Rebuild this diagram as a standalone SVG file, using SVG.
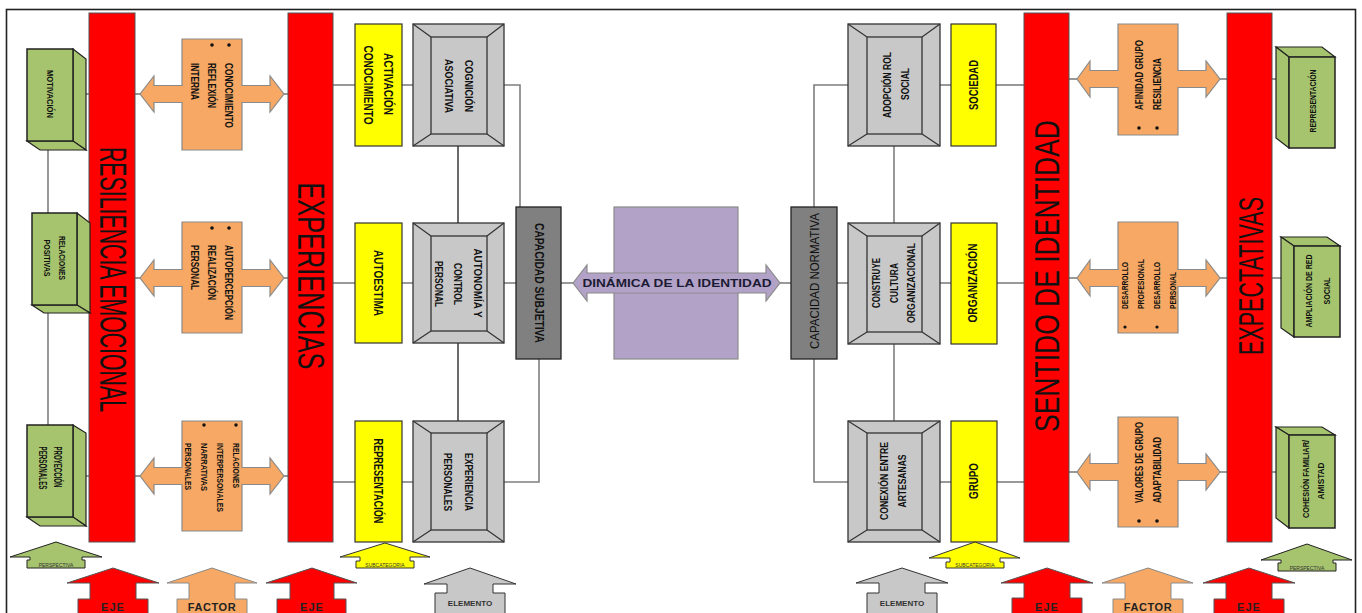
<svg xmlns="http://www.w3.org/2000/svg" width="1362" height="613" viewBox="0 0 1362 613">
<style>
.t{font-family:"Liberation Sans",Arial,sans-serif;fill:#111}
.b{font-weight:bold}
.red{fill:#FF0000;stroke:#555;stroke-width:1}
.org{fill:#F6A864;stroke:#8a8a8a;stroke-width:1.2}
.yel{fill:#FFFF00;stroke:#333;stroke-width:1.2}
.gry{fill:#C8C8C8;stroke:#333;stroke-width:1.3}
.grn{fill:#A6C46E;stroke:#222;stroke-width:1.5}
.grn2{fill:#A6C46E;stroke:#222;stroke-width:1.2}
.pur{fill:#B3A2C7;stroke:#8a8a8a;stroke-width:1.2}
.dk{fill:#808080;stroke:#222;stroke-width:1.3}
.ln{stroke:#7f7f7f;stroke-width:1.6;fill:none}
.bv{stroke:#333;stroke-width:1.2}
.lg{stroke-width:1}
</style>
<rect x="6.5" y="9.5" width="1349" height="620" fill="#fff" stroke="#222" stroke-width="1.6"/>

<g id="connectors">
<line class="ln" x1="48" y1="150" x2="48" y2="213"/>
<line class="ln" x1="48" y1="313" x2="48" y2="425"/>
<line class="ln" x1="86" y1="94" x2="89" y2="94"/>
<line class="ln" x1="135" y1="94" x2="140" y2="94"/>
<line class="ln" x1="284" y1="94" x2="288" y2="94"/>
<line class="ln" x1="135" y1="278" x2="140" y2="278"/>
<line class="ln" x1="284" y1="278" x2="288" y2="278"/>
<line class="ln" x1="86" y1="476" x2="89" y2="476"/>
<line class="ln" x1="135" y1="476" x2="140" y2="476"/>
<line class="ln" x1="284" y1="476" x2="288" y2="476"/>
<line class="ln" x1="333" y1="85" x2="355" y2="85"/>
<line class="ln" x1="402" y1="85" x2="413" y2="85"/>
<line class="ln" x1="333" y1="283" x2="355" y2="283"/>
<line class="ln" x1="402" y1="283" x2="413" y2="283"/>
<line class="ln" x1="333" y1="482" x2="355" y2="482"/>
<line class="ln" x1="402" y1="482" x2="413" y2="482"/>
<line class="ln" x1="458" y1="146" x2="458" y2="223" style="stroke:#444"/>
<line class="ln" x1="458" y1="343" x2="458" y2="421" style="stroke:#444"/>
<polyline class="ln" points="504,85 520,85 520,207"/>
<line class="ln" x1="504" y1="283" x2="516" y2="283"/>
<polyline class="ln" points="539,359 539,482 504,482"/>
<line class="ln" x1="561" y1="283" x2="573" y2="283"/>
<line class="ln" x1="780" y1="283" x2="791" y2="283"/>
<polyline class="ln" points="848,85 814,85 814,207"/>
<line class="ln" x1="837" y1="283" x2="848" y2="283"/>
<polyline class="ln" points="814,359 814,482 848,482"/>
<line class="ln" x1="894" y1="146" x2="894" y2="223"/>
<line class="ln" x1="894" y1="344" x2="894" y2="421"/>
<line class="ln" x1="940" y1="85" x2="951" y2="85"/>
<line class="ln" x1="996" y1="85" x2="1024" y2="85"/>
<line class="ln" x1="940" y1="283" x2="951" y2="283"/>
<line class="ln" x1="997" y1="283" x2="1024" y2="283"/>
<line class="ln" x1="940" y1="482" x2="951" y2="482"/>
<line class="ln" x1="997" y1="482" x2="1024" y2="482"/>
<line class="ln" x1="1069" y1="79" x2="1077" y2="79"/>
<line class="ln" x1="1220" y1="79" x2="1227" y2="79"/>
<line class="ln" x1="1272" y1="79" x2="1276" y2="79"/>
<line class="ln" x1="1069" y1="278" x2="1077" y2="278"/>
<line class="ln" x1="1220" y1="278" x2="1227" y2="278"/>
<line class="ln" x1="1272" y1="278" x2="1281" y2="278"/>
<line class="ln" x1="1069" y1="472" x2="1077" y2="472"/>
<line class="ln" x1="1220" y1="472" x2="1227" y2="472"/>
<line class="ln" x1="1272" y1="472" x2="1276" y2="472"/>
</g>

<!-- Red axes -->
<g id="eje-resiliencia">
<rect class="red" x="89" y="13" width="46" height="529"/>
<text class="t" font-size="36" transform="translate(113,279.5) rotate(90)" y="12.9" text-anchor="middle" textLength="265" lengthAdjust="spacingAndGlyphs">RESILIENCIA EMOCIONAL</text>
</g>
<g id="eje-experiencias">
<rect class="red" x="288" y="13" width="45" height="529"/>
<text class="t" font-size="37" transform="translate(311,276) rotate(90)" y="13.3" text-anchor="middle" textLength="187" lengthAdjust="spacingAndGlyphs">EXPERIENCIAS</text>
</g>
<g id="eje-sentido">
<rect class="red" x="1024" y="13" width="45" height="529"/>
<text class="t" font-size="35" transform="translate(1046.5,276) rotate(-90)" y="12.6" text-anchor="middle" textLength="312" lengthAdjust="spacingAndGlyphs">SENTIDO DE IDENTIDAD</text>
</g>
<g id="eje-expectativas">
<rect class="red" x="1227" y="13" width="45" height="529"/>
<text class="t" font-size="35" transform="translate(1250,276) rotate(-90)" y="12.6" text-anchor="middle" textLength="158" lengthAdjust="spacingAndGlyphs">EXPECTATIVAS</text>
</g>

<!-- Left green perspectives -->
<g id="persp-motivacion">
<polygon class="grn2" points="73,49 86,59 86,150 73,141"/>
<polygon class="grn2" points="27,141 73,141 86,150 40,150"/>
<rect class="grn" x="27" y="49" width="46" height="92"/>
<text class="t b" font-size="9" transform="translate(50,94) rotate(90)" y="3.2" text-anchor="middle" textLength="48" lengthAdjust="spacingAndGlyphs">MOTIVACIÓN</text>
</g>
<g id="persp-relaciones">
<polygon class="grn2" points="77,213 90,223 90,313 77,305"/>
<polygon class="grn2" points="32,305 77,305 90,313 44,313"/>
<rect class="grn" x="32" y="213" width="45" height="92"/>
<text class="t b" font-size="9" transform="translate(62,258) rotate(90)" y="3.2" text-anchor="middle" textLength="44" lengthAdjust="spacingAndGlyphs">RELACIONES</text>
<text class="t b" font-size="9" transform="translate(47,258) rotate(90)" y="3.2" text-anchor="middle" textLength="37" lengthAdjust="spacingAndGlyphs">POSITIVAS</text>
</g>
<g id="persp-proyeccion">
<polygon class="grn2" points="73,425 86,433 86,526 73,517"/>
<polygon class="grn2" points="27,517 73,517 86,526 40,526"/>
<rect class="grn" x="27" y="425" width="46" height="92"/>
<text class="t b" font-size="10" transform="translate(58,467) rotate(90)" y="3.6" text-anchor="middle" textLength="41" lengthAdjust="spacingAndGlyphs">PROYECCIÓN</text>
<text class="t b" font-size="10" transform="translate(43,468) rotate(90)" y="3.6" text-anchor="middle" textLength="43" lengthAdjust="spacingAndGlyphs">PERSONALES</text>
</g>

<!-- Left orange factors -->
<g id="factor-l1">
<polygon class="org" points="140,94 154,76 154,85.5 182,85.5 182,39 242,39 242,85.5 270,85.5 270,76 284,94 270,112 270,102.5 242,102.5 242,150 182,150 182,102.5 154,102.5 154,112"/>
<circle cx="229" cy="45" r="1.8" fill="#111"/><circle cx="212" cy="45" r="1.8" fill="#111"/>
<text class="t b" font-size="10" transform="translate(229,63) rotate(90)" y="3.6" textLength="65" lengthAdjust="spacingAndGlyphs">CONOCIMIENTO</text>
<text class="t b" font-size="10" transform="translate(212,63) rotate(90)" y="3.6" textLength="45" lengthAdjust="spacingAndGlyphs">REFLEXIÓN</text>
<text class="t b" font-size="10" transform="translate(195,63) rotate(90)" y="3.6" textLength="37" lengthAdjust="spacingAndGlyphs">INTERNA</text>
</g>
<g id="factor-l2">
<polygon class="org" points="140,278 154,260 154,269.5 182,269.5 182,222 242,222 242,269.5 270,269.5 270,260 284,278 270,296 270,286.5 242,286.5 242,333 182,333 182,286.5 154,286.5 154,296"/>
<circle cx="229" cy="228" r="1.8" fill="#111"/><circle cx="212" cy="228" r="1.8" fill="#111"/>
<text class="t b" font-size="10" transform="translate(229,245) rotate(90)" y="3.6" textLength="75" lengthAdjust="spacingAndGlyphs">AUTOPERCEPCIÓN</text>
<text class="t b" font-size="10" transform="translate(212,245) rotate(90)" y="3.6" textLength="55" lengthAdjust="spacingAndGlyphs">REALIZACIÓN</text>
<text class="t b" font-size="10" transform="translate(195,245) rotate(90)" y="3.6" textLength="45" lengthAdjust="spacingAndGlyphs">PERSONAL</text>
</g>
<g id="factor-l3">
<polygon class="org" points="140,476 154,458 154,467.5 182,467.5 182,421 242,421 242,467.5 270,467.5 270,458 284,476 270,494 270,484.5 242,484.5 242,531 182,531 182,484.5 154,484.5 154,494"/>
<circle cx="236" cy="425" r="1.7" fill="#111"/><circle cx="204" cy="425" r="1.7" fill="#111"/>
<text class="t b" font-size="9.5" transform="translate(236,443) rotate(90)" y="3.4" textLength="45" lengthAdjust="spacingAndGlyphs">RELACIONES</text>
<text class="t b" font-size="9.5" transform="translate(220,443) rotate(90)" y="3.4" textLength="69" lengthAdjust="spacingAndGlyphs">INTERPERSONALES</text>
<text class="t b" font-size="9.5" transform="translate(204,443) rotate(90)" y="3.4" textLength="48" lengthAdjust="spacingAndGlyphs">NARRATIVAS</text>
<text class="t b" font-size="9.5" transform="translate(188,443) rotate(90)" y="3.4" textLength="47" lengthAdjust="spacingAndGlyphs">PERSONALES</text>
</g>

<!-- Left yellow subcategories -->
<g id="sub-activacion">
<rect class="yel" x="355" y="24" width="47" height="122"/>
<text class="t b" font-size="12" transform="translate(388,84) rotate(90)" y="4.3" text-anchor="middle" textLength="62" lengthAdjust="spacingAndGlyphs">ACTIVACIÓN</text>
<text class="t b" font-size="12" transform="translate(368,85) rotate(90)" y="4.3" text-anchor="middle" textLength="79" lengthAdjust="spacingAndGlyphs">CONOCIMIENTO</text>
</g>
<g id="sub-autoestima">
<rect class="yel" x="355" y="223" width="47" height="120"/>
<text class="t b" font-size="12" transform="translate(378,283) rotate(90)" y="4.3" text-anchor="middle" textLength="66" lengthAdjust="spacingAndGlyphs">AUTOESTIMA</text>
</g>
<g id="sub-representacion">
<rect class="yel" x="355" y="421" width="47" height="121"/>
<text class="t b" font-size="12" transform="translate(378,481) rotate(90)" y="4.3" text-anchor="middle" textLength="85" lengthAdjust="spacingAndGlyphs">REPRESENTACIÓN</text>
</g>

<!-- Left gray elements -->
<g id="elem-cognicion">
<rect class="gry" x="413" y="24" width="91" height="122"/>
<rect class="gry" x="431" y="37" width="56" height="97"/>
<path class="bv" d="M413,24L431,37M504,24L487,37M413,146L431,134M504,146L487,134"/>
<text class="t b" font-size="11" transform="translate(469,86) rotate(90)" y="4" text-anchor="middle" textLength="52" lengthAdjust="spacingAndGlyphs">COGNICIÓN</text>
<text class="t b" font-size="11" transform="translate(449,86) rotate(90)" y="4" text-anchor="middle" textLength="54" lengthAdjust="spacingAndGlyphs">ASOCIATIVA</text>
</g>
<g id="elem-autonomia">
<rect class="gry" x="413" y="223" width="91" height="120"/>
<rect class="gry" x="431" y="236" width="56" height="95"/>
<path class="bv" d="M413,223L431,236M504,223L487,236M413,343L431,331M504,343L487,331"/>
<text class="t b" font-size="11" transform="translate(478,283) rotate(90)" y="4" text-anchor="middle" textLength="69" lengthAdjust="spacingAndGlyphs">AUTONOMÍA Y</text>
<text class="t b" font-size="11" transform="translate(458,284) rotate(90)" y="4" text-anchor="middle" textLength="42" lengthAdjust="spacingAndGlyphs">CONTROL</text>
<text class="t b" font-size="11" transform="translate(439,284) rotate(90)" y="4" text-anchor="middle" textLength="46" lengthAdjust="spacingAndGlyphs">PERSONAL</text>
</g>
<g id="elem-experiencia">
<rect class="gry" x="413" y="421" width="91" height="121"/>
<rect class="gry" x="431" y="433" width="56" height="97"/>
<path class="bv" d="M413,421L431,433M504,421L487,433M413,542L431,530M504,542L487,530"/>
<text class="t b" font-size="11" transform="translate(469,482) rotate(90)" y="4" text-anchor="middle" textLength="58" lengthAdjust="spacingAndGlyphs">EXPERIENCIA</text>
<text class="t b" font-size="11" transform="translate(448,482) rotate(90)" y="4" text-anchor="middle" textLength="58" lengthAdjust="spacingAndGlyphs">PERSONALES</text>
</g>

<g id="capacidad-subjetiva">
<rect class="dk" x="516" y="207" width="45" height="152"/>
<text class="t b" font-size="12" transform="translate(539,283) rotate(90)" y="4.3" text-anchor="middle" textLength="120" lengthAdjust="spacingAndGlyphs">CAPACIDAD SUBJETIVA</text>
</g>

<g id="dinamica">
<rect class="pur" x="614" y="207" width="124" height="152"/>
<polygon class="pur" points="573,283 587,265 587,273 766,273 766,265 780,283 766,301 766,293 587,293 587,301"/>
<rect x="614.6" y="273.7" width="122.8" height="18.6" fill="#B3A2C7"/>
<text class="t b" font-size="11.5" x="677" y="287" text-anchor="middle" textLength="189" lengthAdjust="spacingAndGlyphs" style="fill:#1b1b33">DINÁMICA DE LA IDENTIDAD</text>
</g>

<g id="capacidad-normativa">
<rect class="dk" x="791" y="207" width="46" height="152"/>
<text class="t" font-size="13" transform="translate(814,281) rotate(-90)" y="4.7" text-anchor="middle" textLength="136" lengthAdjust="spacingAndGlyphs">CAPACIDAD NORMATIVA</text>
</g>

<!-- Right gray elements -->
<g id="elem-adopcion">
<rect class="gry" x="848" y="24" width="92" height="122"/>
<rect class="gry" x="867" y="37" width="55" height="97"/>
<path class="bv" d="M848,24L867,37M940,24L922,37M848,146L867,134M940,146L922,134"/>
<text class="t b" font-size="11" transform="translate(887,85) rotate(-90)" y="4" text-anchor="middle" textLength="66" lengthAdjust="spacingAndGlyphs">ADOPCIÓN ROL</text>
<text class="t b" font-size="11" transform="translate(905,84) rotate(-90)" y="4" text-anchor="middle" textLength="32" lengthAdjust="spacingAndGlyphs">SOCIAL</text>
</g>
<g id="elem-construye">
<rect class="gry" x="848" y="223" width="92" height="121"/>
<rect class="gry" x="867" y="236" width="55" height="96"/>
<path class="bv" d="M848,223L867,236M940,223L922,236M848,344L867,332M940,344L922,332"/>
<text class="t b" font-size="11" transform="translate(876,283) rotate(-90)" y="4" text-anchor="middle" textLength="50" lengthAdjust="spacingAndGlyphs">CONSTRUYE</text>
<text class="t b" font-size="11" transform="translate(894,283) rotate(-90)" y="4" text-anchor="middle" textLength="40" lengthAdjust="spacingAndGlyphs">CULTURA</text>
<text class="t b" font-size="11" transform="translate(911,283) rotate(-90)" y="4" text-anchor="middle" textLength="80" lengthAdjust="spacingAndGlyphs">ORGANIZACIONAL</text>
</g>
<g id="elem-conexion">
<rect class="gry" x="848" y="421" width="92" height="121"/>
<rect class="gry" x="867" y="433" width="55" height="97"/>
<path class="bv" d="M848,421L867,433M940,421L922,433M848,542L867,530M940,542L922,530"/>
<text class="t b" font-size="11" transform="translate(884,481) rotate(-90)" y="4" text-anchor="middle" textLength="78" lengthAdjust="spacingAndGlyphs">CONEXIÓN ENTRE</text>
<text class="t b" font-size="11" transform="translate(902,481) rotate(-90)" y="4" text-anchor="middle" textLength="53" lengthAdjust="spacingAndGlyphs">ARTESANAS</text>
</g>

<!-- Right yellow subcategories -->
<g id="sub-sociedad">
<rect class="yel" x="951" y="24" width="45" height="122"/>
<text class="t b" font-size="12" transform="translate(974,85) rotate(-90)" y="4.3" text-anchor="middle" textLength="50" lengthAdjust="spacingAndGlyphs">SOCIEDAD</text>
</g>
<g id="sub-organizacion">
<rect class="yel" x="951" y="223" width="46" height="121"/>
<text class="t b" font-size="12" transform="translate(973,283) rotate(-90)" y="4.3" text-anchor="middle" textLength="79" lengthAdjust="spacingAndGlyphs">ORGANIZACIÓN</text>
</g>
<g id="sub-grupo">
<rect class="yel" x="951" y="421" width="46" height="121"/>
<text class="t b" font-size="12" transform="translate(974,481) rotate(-90)" y="4.3" text-anchor="middle" textLength="36" lengthAdjust="spacingAndGlyphs">GRUPO</text>
</g>

<!-- Right orange factors -->
<g id="factor-r1">
<polygon class="org" points="1077,79 1090,61 1090,70.5 1118,70.5 1118,24 1178,24 1178,70.5 1206,70.5 1206,61 1220,79 1206,97 1206,87.5 1178,87.5 1178,135 1118,135 1118,87.5 1090,87.5 1090,97"/>
<circle cx="1139" cy="128" r="1.8" fill="#111"/><circle cx="1157" cy="128" r="1.8" fill="#111"/>
<text class="t b" font-size="10" transform="translate(1139,110) rotate(-90)" y="3.6" textLength="70" lengthAdjust="spacingAndGlyphs">AFINIDAD GRUPO</text>
<text class="t b" font-size="10" transform="translate(1157,110) rotate(-90)" y="3.6" textLength="52" lengthAdjust="spacingAndGlyphs">RESILIENCIA</text>
</g>
<g id="factor-r2">
<polygon class="org" points="1077,278 1090,260 1090,269.5 1118,269.5 1118,222 1178,222 1178,269.5 1206,269.5 1206,260 1220,278 1206,296 1206,286.5 1178,286.5 1178,333 1118,333 1118,286.5 1090,286.5 1090,296"/>
<circle cx="1125" cy="327" r="1.6" fill="#111"/><circle cx="1157" cy="327" r="1.6" fill="#111"/>
<text class="t b" font-size="9" transform="translate(1125,309) rotate(-90)" y="3.2" textLength="47" lengthAdjust="spacingAndGlyphs">DESARROLLO</text>
<text class="t b" font-size="9" transform="translate(1141,309) rotate(-90)" y="3.2" textLength="50" lengthAdjust="spacingAndGlyphs">PROFESIONAL</text>
<text class="t b" font-size="9" transform="translate(1157,309) rotate(-90)" y="3.2" textLength="47" lengthAdjust="spacingAndGlyphs">DESARROLLO</text>
<text class="t b" font-size="9" transform="translate(1173,309) rotate(-90)" y="3.2" textLength="37" lengthAdjust="spacingAndGlyphs">PERSONAL</text>
</g>
<g id="factor-r3">
<polygon class="org" points="1077,472 1090,454 1090,463.5 1118,463.5 1118,417 1178,417 1178,463.5 1206,463.5 1206,454 1220,472 1206,490 1206,480.5 1178,480.5 1178,527 1118,527 1118,480.5 1090,480.5 1090,490"/>
<circle cx="1139" cy="521" r="1.8" fill="#111"/><circle cx="1157" cy="521" r="1.8" fill="#111"/>
<text class="t b" font-size="10" transform="translate(1139,503) rotate(-90)" y="3.6" textLength="81" lengthAdjust="spacingAndGlyphs">VALORES DE GRUPO</text>
<text class="t b" font-size="10" transform="translate(1157,503) rotate(-90)" y="3.6" textLength="66" lengthAdjust="spacingAndGlyphs">ADAPTABILIDAD</text>
</g>

<!-- Right green perspectives -->
<g id="persp-representacion">
<polygon class="grn2" points="1276,47 1322,47 1335,57 1289,57"/>
<polygon class="grn2" points="1276,47 1289,57 1289,148 1276,138"/>
<rect class="grn" x="1289" y="57" width="46" height="91"/>
<text class="t b" font-size="9" transform="translate(1313,101) rotate(-90)" y="3.2" text-anchor="middle" textLength="63" lengthAdjust="spacingAndGlyphs">REPRESENTACIÓN</text>
</g>
<g id="persp-ampliacion">
<polygon class="grn2" points="1281,237 1327,237 1340,246 1294,246"/>
<polygon class="grn2" points="1281,237 1294,246 1294,337 1281,328"/>
<rect class="grn" x="1294" y="246" width="46" height="91"/>
<text class="t b" font-size="8.5" transform="translate(1309,291) rotate(-90)" y="3" text-anchor="middle" textLength="73" lengthAdjust="spacingAndGlyphs">AMPLIACIÓN DE RED</text>
<text class="t b" font-size="8.5" transform="translate(1327,291) rotate(-90)" y="3" text-anchor="middle" textLength="27" lengthAdjust="spacingAndGlyphs">SOCIAL</text>
</g>
<g id="persp-cohesion">
<polygon class="grn2" points="1276,427 1322,427 1335,435 1289,435"/>
<polygon class="grn2" points="1276,427 1289,435 1289,528 1276,518"/>
<rect class="grn" x="1289" y="435" width="46" height="93"/>
<text class="t b" font-size="9" transform="translate(1306,479) rotate(-90)" y="3.2" text-anchor="middle" textLength="78" lengthAdjust="spacingAndGlyphs">COHESIÓN FAMILIAR/</text>
<text class="t b" font-size="9" transform="translate(1321,481) rotate(-90)" y="3.2" text-anchor="middle" textLength="37" lengthAdjust="spacingAndGlyphs">AMISTAD</text>
</g>

<!-- Legend arrows -->
<g id="leg-perspectiva-l">
<polygon class="grn2 lg" points="56,542 102,557 82,557 82,560 85,560 85,568 27,568 27,560 30,560 30,557 10,557"/>
<text class="t" font-size="5" x="56" y="566.5" text-anchor="middle" style="fill:#333">PERSPECTIVA</text>
</g>
<g id="leg-eje-l1">
<polygon class="red lg" points="113,568 159,583 136,583 136,599 148,599 148,620 78,620 78,599 90,599 90,583 67,583"/>
<text class="t b" font-size="11" x="113" y="611" text-anchor="middle" letter-spacing="1" style="fill:#222">EJE</text>
</g>
<g id="leg-factor-l">
<polygon class="org lg" points="212,568 257,583 235,583 235,599 247,599 247,620 177,620 177,599 189,599 189,583 167,583"/>
<text class="t b" font-size="11" x="212" y="611" text-anchor="middle" letter-spacing="0.6" style="fill:#222">FACTOR</text>
</g>
<g id="leg-eje-l2">
<polygon class="red lg" points="312,568 357,583 334,583 334,599 346,599 346,620 277,620 277,599 290,599 290,583 266,583"/>
<text class="t b" font-size="11" x="312" y="611" text-anchor="middle" letter-spacing="1" style="fill:#222">EJE</text>
</g>
<g id="leg-subcat-l">
<polygon class="yel lg" points="385,543 430,557 410,557 410,561 414,561 414,568 356,568 356,561 360,561 360,557 340,557"/>
<text class="t" font-size="5" x="385" y="566.5" text-anchor="middle" style="fill:#333">SUBCATEGORIA</text>
</g>
<g id="leg-elemento-l">
<polygon class="gry lg" points="470,568 516,584 493,584 493,593 505,593 505,620 435,620 435,593 447,593 447,584 424,584"/>
<text class="t b" font-size="8" x="470" y="606" text-anchor="middle" style="fill:#333">ELEMENTO</text>
</g>
<g id="leg-elemento-r">
<polygon class="gry lg" points="902,568 948,583 925,583 925,593 937,593 937,620 867,620 867,593 879,593 879,583 856,583"/>
<text class="t b" font-size="8" x="902" y="606" text-anchor="middle" style="fill:#333">ELEMENTO</text>
</g>
<g id="leg-subcat-r">
<polygon class="yel lg" points="975,542 1020,558 1000,558 1000,562 1004,562 1004,568 946,568 946,562 950,562 950,558 929,558"/>
<text class="t" font-size="5" x="975" y="566.5" text-anchor="middle" style="fill:#333">SUBCATEGORIA</text>
</g>
<g id="leg-eje-r1">
<polygon class="red lg" points="1047,568 1093,583 1070,583 1070,598 1082,598 1082,620 1012,620 1012,598 1024,598 1024,583 1001,583"/>
<text class="t b" font-size="11" x="1047" y="611" text-anchor="middle" letter-spacing="1" style="fill:#222">EJE</text>
</g>
<g id="leg-factor-r">
<polygon class="org lg" points="1148,568 1193,583 1171,583 1171,599 1183,599 1183,620 1113,620 1113,599 1125,599 1125,583 1102,583"/>
<text class="t b" font-size="11" x="1148" y="611" text-anchor="middle" letter-spacing="0.6" style="fill:#222">FACTOR</text>
</g>
<g id="leg-eje-r2">
<polygon class="red lg" points="1249,568 1295,583 1272,583 1272,599 1284,599 1284,620 1214,620 1214,599 1226,599 1226,583 1203,583"/>
<text class="t b" font-size="11" x="1249" y="611" text-anchor="middle" letter-spacing="1" style="fill:#222">EJE</text>
</g>
<g id="leg-perspectiva-r">
<polygon class="grn2 lg" points="1307,544 1352,560 1333,560 1333,563 1336,563 1336,571 1278,571 1278,563 1281,563 1281,560 1261,560"/>
<text class="t" font-size="5" x="1307" y="569.5" text-anchor="middle" style="fill:#333">PERSPECTIVA</text>
</g>
</svg>
